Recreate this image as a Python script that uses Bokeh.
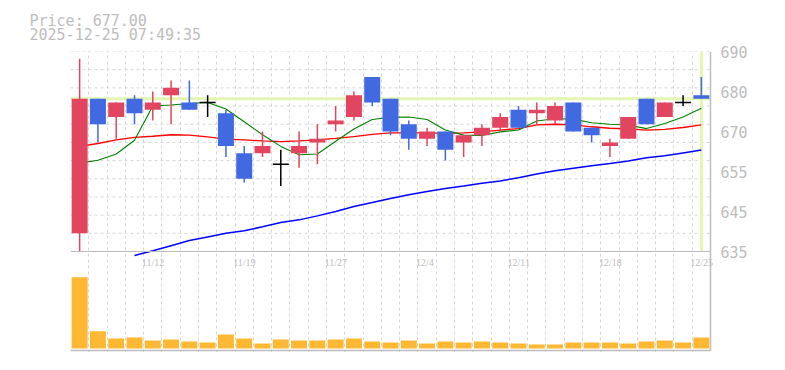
import numpy as np
from bokeh.plotting import figure
from bokeh.models import Range1d, FixedTicker, ColumnDataSource, LabelSet, Title
from bokeh.embed import file_html
from bokeh.resources import INLINE

# ---------------- data ----------------
timestamp = "2025-12-25 07:49:35"
opens  = [640, 677, 672, 677, 674, 678, 676, 676, 673, 662, 662, 659, 662, 665, 670, 672, 683, 677,
          670, 666, 668, 665, 667, 669, 674, 673, 671, 676, 669, 664, 666, 677, 672, 676, 678]
highs  = [688, 677, 676, 678, 679, 682, 682, 678, 674, 664, 668, 663, 668, 670, 675, 679, 683, 677,
          671, 669, 668, 667, 670, 673, 675, 676, 676, 676, 669, 666, 672, 677, 676, 678, 683]
lows   = [635, 665, 666, 670, 671, 670, 674, 672, 661, 654, 661, 653, 658, 659, 668, 671, 675, 667,
          663, 664, 660, 661, 664, 668, 669, 670, 670, 668, 665, 661, 666, 670, 672, 675, 677]
closes = [677, 670, 676, 673, 676, 680, 674, 676, 664, 655, 664, 659, 664, 666, 671, 678, 676, 668,
          666, 668, 663, 667, 669, 672, 669, 674, 675, 668, 667, 665, 672, 670, 676, 676, 677]
volume = [713, 173, 100, 110, 80, 90, 70, 60, 140, 100, 50, 90, 80, 80, 90, 100, 70, 60,
          80, 50, 70, 60, 70, 60, 50, 40, 40, 60, 60, 60, 50, 70, 80, 60, 110]
ma_short = [659.3, 660.1, 661.8, 665.6, 675.0, 675.3, 675.7, 676.0, 674.2, 670.7, 667.1, 663.9,
            661.6, 661.8, 665.3, 668.7, 671.3, 671.9, 672.0, 671.3, 668.4, 667.0, 666.9, 667.9,
            668.4, 670.9, 671.5, 671.4, 670.4, 670.0, 669.8, 668.8, 670.2, 672.0, 674.4]
ma_mid = [663.9, 664.7, 665.7, 666.4, 666.7, 667.1, 667.0, 666.5, 665.9, 665.7, 665.4, 665.2,
          665.4, 665.7, 666.1, 666.6, 667.2, 667.6, 667.6, 667.6, 667.5, 667.6, 667.9, 668.4,
          668.8, 669.8, 670.0, 669.8, 669.3, 668.9, 668.7, 668.4, 668.6, 669.1, 669.8]
ma_long = [np.nan, np.nan, np.nan, 633.9, 635.2, 636.6, 638.0, 639.0, 640.0, 640.7, 641.8, 643.0,
           643.7, 644.8, 646.0, 647.4, 648.5, 649.6, 650.6, 651.5, 652.3, 653.0, 653.8, 654.4,
           655.3, 656.3, 657.2, 657.9, 658.6, 659.2, 659.9, 660.8, 661.3, 662.1, 662.9]
date_idx = [4, 9, 14, 19, 24, 29, 34]
date_labels = ["11/12", "11/19", "11/27", "12/4", "12/11", "12/18", "12/25"]
ytick_vals = [635, 646, 657, 668, 679, 690]
ytick_labels = ["635", "645", "655", "670", "680", "690"]
grid_vals = list(range(640, 691, 5))

# ---------------- layout constants ----------------
n = len(closes)
x = np.arange(n)
chart_w = 640                      # pixel width of the candle area
pad_r = 10                         # extra frame room on the right for the last date label
ppu = chart_w / n
price_top, price_bot = 690, 635
price_px = 200
frame_h = 301
upp = (price_top - price_bot) / price_px
y_start = price_top - frame_h * upp
y_bottom_line = price_bot - 99 * upp
vol_upp = 10.0
vol_start = -4 * vol_upp
vol_end = vol_start + frame_h * vol_upp

GRAY = "#bdbdbd"
GRID = "#d6d6d6"
RED = "#e2455f"
BLUE = "#4169e1"
HILITE = "#e4f6b2"
VOLC = "#ffb833"
FONT = "DejaVu Sans Mono"

x_lo, x_hi = -0.5, n - 0.5
p = figure(width=780, height=362, output_backend="svg", toolbar_location=None,
           x_range=Range1d(x_lo, x_hi + pad_r / ppu), y_range=Range1d(y_start, price_top),
           y_axis_location="right", x_axis_location=None,
           min_border_left=70, min_border_right=60, min_border_top=51, min_border_bottom=10,
           background_fill_color="white", border_fill_color="white", outline_line_color=None)
p.title.visible = False
p.extra_y_ranges = {"vol": Range1d(vol_start, vol_end)}

# header (two lines)
p.add_layout(Title(text="Price: %.2f\n%s" % (closes[-1], timestamp), align="left", offset=-41,
                   standoff=14, text_font=FONT, text_font_size="15px", text_font_style="normal",
                   text_line_height=0.83, text_color=GRAY), "above")

# vertical grid (candle boundaries)
p.xgrid.ticker = FixedTicker(ticks=[i - 0.5 for i in range(n)])
p.xgrid.grid_line_color = GRID
p.xgrid.grid_line_dash = "3 3"
p.ygrid.visible = False
# horizontal grid in price panel
p.segment(x0=[x_lo] * len(grid_vals), y0=grid_vals, x1=[x_hi] * len(grid_vals), y1=grid_vals,
          line_color=GRID, line_dash="3 3", line_width=1)

# right price axis (labels only; line drawn as glyph)
ya = p.yaxis[0]
ya.ticker = FixedTicker(ticks=ytick_vals)
ya.major_label_overrides = {v: t for v, t in zip(ytick_vals, ytick_labels)}
ya.major_tick_line_color = None
ya.minor_tick_line_color = None
ya.major_tick_out = 0
ya.major_label_standoff = 0
ya.axis_line_color = None
ya.major_label_text_font = FONT
ya.major_label_text_font_size = "15px"
ya.major_label_text_color = GRAY

# price highlight lines
p.segment(x0=[x_lo], y0=[closes[-1]], x1=[x_hi], y1=[closes[-1]], line_color=HILITE, line_width=3)
p.segment(x0=[n - 1], y0=[price_bot], x1=[n - 1], y1=[price_top], line_color=HILITE, line_width=3)

# moving averages
p.line(x, np.array(ma_mid, dtype=float), line_color="#ff0000", line_width=1.3)
p.line(x, np.array(ma_short, dtype=float), line_color="#008000", line_width=1.1)
p.line(x, np.array(ma_long, dtype=float), line_color="#0000ff", line_width=1.5)

# candles
o = np.array(opens, dtype=float)
c = np.array(closes, dtype=float)
colors = [RED if cc > oo else (BLUE if cc < oo else "black") for oo, cc in zip(o, c)]
src = ColumnDataSource(dict(x=x, high=highs, low=lows, color=colors))
p.segment(x0="x", y0="high", x1="x", y1="low", line_color="color", line_width=1.5, source=src)
body_mask = [cc != oo for oo, cc in zip(o, c)]
bsrc = ColumnDataSource(dict(x=x[body_mask], top=np.maximum(o, c)[body_mask],
                             bottom=np.minimum(o, c)[body_mask],
                             color=[col for col, m in zip(colors, body_mask) if m]))
p.vbar(x="x", width=0.875, top="top", bottom="bottom", fill_color="color", line_color=None, source=bsrc)
doji = [i for i in range(n) if not body_mask[i]]
p.segment(x0=[i - 0.4375 for i in doji], y0=[c[i] for i in doji],
          x1=[i + 0.4375 for i in doji], y1=[c[i] for i in doji],
          line_color="black", line_width=1.5)

# volume
p.vbar(x=x, width=0.875, top=volume, bottom=0, y_range_name="vol",
       fill_color=VOLC, line_color=None)

# panel border lines
p.segment(x0=[x_lo, x_lo], y0=[price_bot, y_bottom_line], x1=[x_hi, x_hi],
          y1=[price_bot, y_bottom_line], line_color=GRAY, line_width=[1, 1.5])
p.segment(x0=[x_hi], y0=[y_bottom_line], x1=[x_hi], y1=[price_top],
          line_color=GRAY, line_width=1.5)

# date labels between panels
lbl_y = price_bot - 11 * upp
dsrc = ColumnDataSource(dict(x=date_idx, y=[lbl_y] * len(date_idx), t=date_labels))
p.add_layout(LabelSet(x="x", y="y", text="t", source=dsrc, x_offset=-11,
                      text_align="left", text_baseline="middle", text_font=FONT,
                      text_font_size="10px", text_color=GRAY))

open("out.html", "w").write(file_html(p, INLINE))
